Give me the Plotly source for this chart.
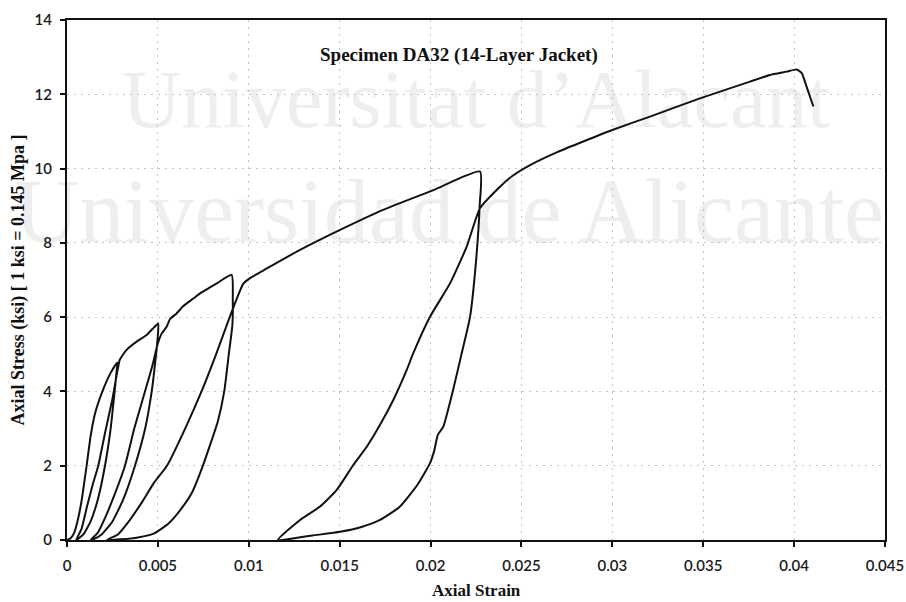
import plotly.graph_objects as go

# Loading / unloading branches of the cyclic compression test (strain, stress in ksi)
load1_strain = [0.0, 0.0002, 0.0004, 0.0006, 0.0008, 0.00108, 0.0013, 0.00154, 0.00198, 0.0024, 0.00277]
load1_stress = [0.0, 0.05, 0.2, 0.55, 1.05, 2.0, 2.8, 3.4, 4.04, 4.5, 4.78]

unload1_strain = [0.00277, 0.00272, 0.00262, 0.0024, 0.00209, 0.0017, 0.0013, 0.0009, 0.0006, 0.0005]
unload1_stress = [4.78, 4.5, 4.0, 3.0, 2.0, 1.1, 0.5, 0.15, 0.03, 0.0]

reload1_strain = [0.0005, 0.0008, 0.0011, 0.00142, 0.00172, 0.0021, 0.0025, 0.0027, 0.0029, 0.00301,
                  0.00328, 0.00383, 0.00438, 0.0047, 0.00502]
reload1_stress = [0.0, 0.3, 0.9, 1.5, 2.0, 2.9, 3.8, 4.35, 4.85, 4.94,
                  5.12, 5.34, 5.52, 5.68, 5.83]

unload2_strain = [0.00502, 0.00498, 0.0049, 0.00466, 0.0043, 0.00374, 0.0031, 0.0025, 0.0019, 0.0015, 0.0013]
unload2_stress = [5.83, 5.4, 5.0, 4.0, 3.0, 2.0, 1.1, 0.5, 0.15, 0.03, 0.0]

reload2_strain = [0.0013, 0.0017, 0.0021, 0.0026, 0.00319, 0.0037, 0.00429, 0.0047, 0.005, 0.0052,
                  0.00548, 0.00567, 0.00603, 0.0064, 0.00695, 0.00732, 0.00824, 0.00906]
reload2_stress = [0.0, 0.2, 0.6, 1.2, 2.0, 3.0, 4.0, 4.7, 5.3, 5.55,
                  5.74, 5.95, 6.1, 6.3, 6.5, 6.64, 6.91, 7.14]

unload3_strain = [0.00906, 0.00912, 0.0091, 0.0089, 0.00865, 0.0083, 0.0079, 0.0074, 0.0069, 0.0063,
                  0.0056, 0.0048, 0.0039, 0.003, 0.0022]
unload3_stress = [7.14, 6.5, 5.8, 5.0, 4.0, 3.2, 2.6, 1.9, 1.3, 0.85,
                  0.45, 0.18, 0.07, 0.02, 0.0]

reload3_strain = [0.0022, 0.0028, 0.0034, 0.0041, 0.0048, 0.0055, 0.0065, 0.0074, 0.0082, 0.0088,
                  0.00924, 0.0097, 0.01007, 0.01099, 0.01282, 0.01502, 0.01739, 0.02015, 0.02272]
reload3_stress = [0.0, 0.15, 0.5, 1.0, 1.55, 2.0, 3.0, 4.0, 5.0, 5.8,
                  6.37, 6.9, 7.05, 7.31, 7.81, 8.35, 8.89, 9.42, 9.92]

unload4_strain = [0.02272, 0.0227, 0.0225, 0.02217, 0.0217, 0.02124, 0.0207, 0.0204, 0.0202, 0.01997,
                  0.0193, 0.01832, 0.01722, 0.0162, 0.01502, 0.0135, 0.0125, 0.0116]
unload4_stress = [9.92, 9.0, 7.5, 6.0, 5.0, 4.04, 3.05, 2.83, 2.4, 2.07,
                  1.5, 0.9, 0.54, 0.35, 0.22, 0.12, 0.05, 0.0]

reload4_strain = [0.0116, 0.01282, 0.01392, 0.01484, 0.01575, 0.01649, 0.01722, 0.01795, 0.01869, 0.01905,
                  0.01997, 0.02107, 0.02199, 0.02272, 0.02382, 0.0245, 0.0255, 0.027, 0.0285, 0.03,
                  0.03207, 0.03482, 0.03757, 0.03867, 0.03959, 0.04014, 0.04042, 0.04069, 0.04106]
reload4_stress = [0.0, 0.54, 0.9, 1.35, 2.02, 2.51, 3.1, 3.77, 4.58, 5.03,
                  6.01, 6.91, 7.9, 8.93, 9.51, 9.8, 10.1, 10.45, 10.75, 11.04,
                  11.4, 11.89, 12.34, 12.52, 12.61, 12.67, 12.57, 12.2, 11.67]

branches = [
    (load1_strain, load1_stress), (unload1_strain, unload1_stress), (reload1_strain, reload1_stress),
    (unload2_strain, unload2_stress), (reload2_strain, reload2_stress),
    (unload3_strain, unload3_stress), (reload3_strain, reload3_stress),
    (unload4_strain, unload4_stress), (reload4_strain, reload4_stress),
]

x_ticks = [0, 0.005, 0.01, 0.015, 0.02, 0.025, 0.03, 0.035, 0.04, 0.045]
x_tick_text = ["0", "0.005", "0.01", "0.015", "0.02", "0.025", "0.03", "0.035", "0.04", "0.045"]
y_ticks = [0, 2, 4, 6, 8, 10, 12, 14]

strain, stress = [], []
for i, (bx, by) in enumerate(branches):
    start = 0 if i == 0 else 1
    strain += bx[start:]
    stress += by[start:]

fig = go.Figure()
fig.add_trace(go.Scatter(
    x=strain, y=stress, mode="lines",
    line=dict(color="#111111", width=2, shape="spline", smoothing=0.5),
    hoverinfo="skip", showlegend=False,
))

serif = "Liberation Serif"
tick_font = dict(family="Lato", size=15, color="#1a1a1a", weight=600)
axis_common = dict(
    automargin=False,
    showline=True, linecolor="#111111", linewidth=2, mirror=True,
    ticks="outside", ticklen=5, tickcolor="#111111", tickwidth=1.5,
    showgrid=True, gridcolor="#c4c4c4", gridwidth=1, griddash="2px,5px",
    zeroline=False, tickfont=tick_font,
)

watermark_font = dict(family=serif, color="#eeeeee")

fig.update_layout(
    width=906, height=602,
    margin=dict(l=67, r=21, t=20, b=62),
    paper_bgcolor="white", plot_bgcolor="white",
    xaxis=dict(range=[0, 0.045], tickvals=x_ticks, ticktext=x_tick_text,
               ticklabelstandoff=6, **axis_common),
    yaxis=dict(range=[0, 14], tickvals=y_ticks, ticklabelstandoff=5, **axis_common),
    annotations=[
        dict(text="Specimen DA32 (14-Layer Jacket)", xref="paper", yref="paper",
             x=0.479, y=0.933, xanchor="center", yanchor="middle", showarrow=False,
             font=dict(family=serif, size=19, color="#111111", weight="bold")),
        dict(text="Axial Strain", xref="paper", yref="paper",
             x=0.5, y=-0.098, xanchor="center", yanchor="middle", showarrow=False,
             font=dict(family=serif, size=17, color="#111111", weight="bold")),
        dict(text="Axial Stress (ksi) [ 1 ksi = 0.145 Mpa ]", xref="paper", yref="paper",
             x=-0.0593, y=0.5, xanchor="center", yanchor="middle", showarrow=False, textangle=-90,
             font=dict(family=serif, size=18, color="#111111", weight="bold")),
    ],
    shapes=[
        dict(type="rect", xref="paper", yref="paper", x0=0.0, x1=1.0, y0=0.744, y1=0.984,
             line=dict(width=0), fillcolor="rgba(0,0,0,0)", layer="below",
             label=dict(text="Universitat d\u2019Alacant", textposition="middle center",
                        font=dict(size=82, **watermark_font))),
        dict(type="rect", xref="paper", yref="paper", x0=-0.093, x1=1.027, y0=0.531, y1=0.771,
             line=dict(width=0), fillcolor="rgba(0,0,0,0)", layer="below",
             label=dict(text="Universidad de Alicante", textposition="middle center",
                        font=dict(size=90, **watermark_font))),
    ],
)

fig.write_html("out.html")
